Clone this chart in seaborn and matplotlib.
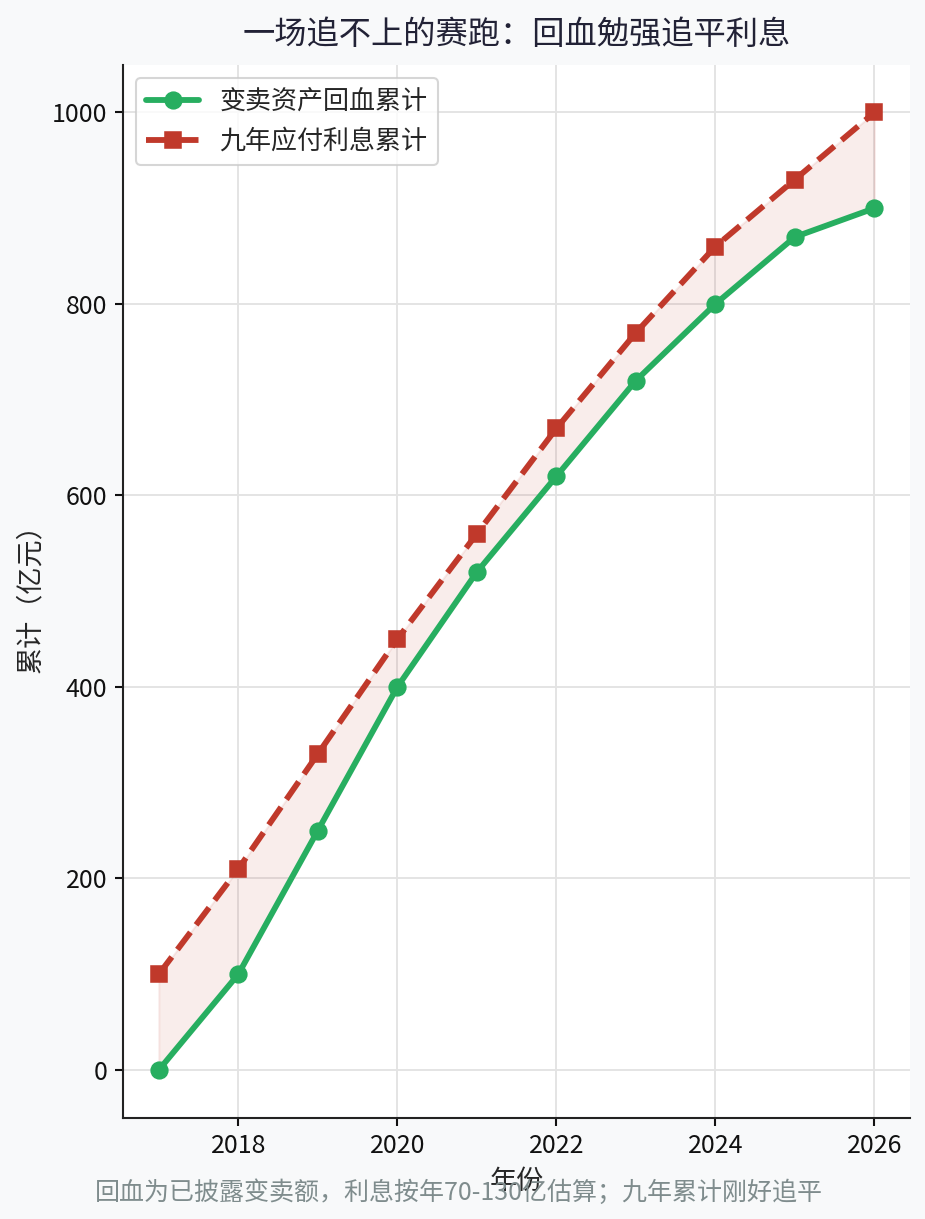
import pandas as pd
import matplotlib.pyplot as plt
import seaborn as sns

years = [2017, 2018, 2019, 2020, 2021, 2022, 2023, 2024, 2025, 2026]
recovered = [0, 100, 250, 400, 520, 620, 720, 800, 870, 900]
interest = [100, 210, 330, 450, 560, 670, 770, 860, 930, 1000]

label_recovered = "变卖资产回血累计"
label_interest = "九年应付利息累计"

df = pd.DataFrame({"年份": years, "回血": recovered, "利息": interest})

sns.set_theme(style="whitegrid")
plt.rcParams["font.family"] = ["Noto Sans CJK SC", "DejaVu Sans"]
plt.rcParams["axes.unicode_minus"] = False

green = "#27ae60"
red = "#c0392b"

fig, ax = plt.subplots(figsize=(925 / 150, 1219 / 150), dpi=150)
fig.patch.set_facecolor("#f8f9fa")
ax.set_facecolor("white")
fig.subplots_adjust(left=0.133, right=0.984, bottom=0.083, top=0.947)

# gap between what came back and what was owed
ax.fill_between(df["年份"], df["回血"], df["利息"], color=red, alpha=0.09)
sns.lineplot(data=df, x="年份", y="回血", marker="o", markersize=8,
             linewidth=2.8, color=green, mec=green, label=label_recovered, ax=ax)
sns.lineplot(data=df, x="年份", y="利息", marker="s", markersize=8,
             linewidth=2.8, linestyle="--", color=red, mec=red,
             label=label_interest, ax=ax)

ax.set_title("一场追不上的赛跑：回血勉强追平利息", fontsize=15.5, color="#222236", pad=10)
ax.set_xlabel("年份", fontsize=13)
ax.set_ylabel("累计（亿元）", fontsize=13)
ax.tick_params(axis="both", labelsize=12, length=4, width=1, colors="#111111",
               left=True, bottom=True)

ax.grid(True, color="#e3e3e3", linewidth=0.9)
ax.set_axisbelow(True)
sns.despine(ax=ax)
for side in ["left", "bottom"]:
    ax.spines[side].set_color("#222222")
    ax.spines[side].set_linewidth(1.0)

leg = ax.legend(loc="upper left", fontsize=12.5, frameon=True)
leg.get_frame().set_edgecolor("#cccccc")
leg.get_frame().set_facecolor("white")

fig.text(0.496, 0.021, "回血为已披露变卖额，利息按年70-130亿估算；九年累计刚好追平",
         ha="center", va="center", fontsize=12, color="#7f8c8d")

plt.savefig("out.png", dpi=150, facecolor=fig.get_facecolor())
